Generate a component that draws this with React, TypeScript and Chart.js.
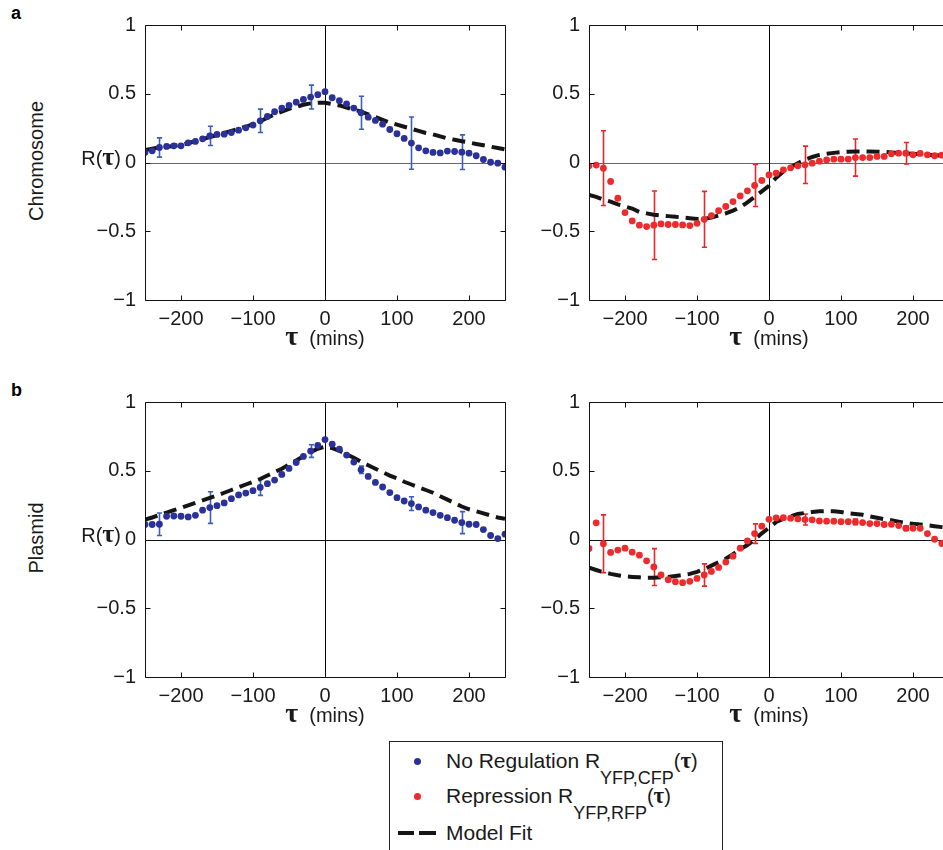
import React, { useEffect, useRef } from 'react';
import { Chart, registerables } from 'chart.js';

Chart.register(...registerables);

const FONT = "'Liberation Sans', Arial, Helvetica, sans-serif";
const SERIF = "'Liberation Serif', 'Times New Roman', serif";

// ---- data ----
const tau = [
  -250, -240, -230, -220, -210, -200, -190, -180, -170, -160, -150, -140, -130, -120, -110, -100, -90,
  -80, -70, -60, -50, -40, -30, -20, -10, 0, 10, 20, 30, 40, 50, 60, 70, 80, 90, 100, 110, 120, 130,
  140, 150, 160, 170, 180, 190, 200, 210, 220, 230, 240, 250,
];
const errTau = [-230, -160, -90, -20, 50, 120, 190];
const xTickValues = [-200, -100, 0, 100, 200];
const yTickValues = [-1, -0.5, 0, 0.5, 1];

// a: chromosome, no regulation (blue)
const chromoNoReg = [
  0.073, 0.085, 0.109, 0.117, 0.121, 0.121, 0.143, 0.153, 0.172, 0.194, 0.204, 0.206, 0.218, 0.235, 0.252,
  0.272, 0.303, 0.335, 0.369, 0.396, 0.415, 0.439, 0.459, 0.476, 0.493, 0.515, 0.471, 0.449, 0.427, 0.396,
  0.362, 0.33, 0.306, 0.279, 0.24, 0.209, 0.175, 0.141, 0.107, 0.085, 0.073, 0.07, 0.083, 0.08, 0.075,
  0.068, 0.049, 0.022, 0.002, -0.005, -0.034,
];
const chromoNoRegErr = [0.07, 0.07, 0.085, 0.087, 0.12, 0.19, 0.126];
const chromoNoRegFit = [
  0.09, 0.1, 0.11, 0.115, 0.12, 0.13, 0.14, 0.155, 0.17, 0.185, 0.2, 0.215, 0.23, 0.245, 0.26, 0.28, 0.3,
  0.325, 0.35, 0.37, 0.39, 0.405, 0.42, 0.43, 0.435, 0.435, 0.425, 0.415, 0.4, 0.385, 0.37, 0.35, 0.33,
  0.31, 0.29, 0.275, 0.26, 0.245, 0.23, 0.215, 0.205, 0.19, 0.175, 0.165, 0.155, 0.145, 0.135, 0.125,
  0.115, 0.105, 0.095,
];

// a: chromosome, repression (red)
const chromoRep = [
  -0.024, -0.019, -0.041, -0.138, -0.26, -0.364, -0.425, -0.456, -0.466, -0.456, -0.447, -0.451, -0.451,
  -0.454, -0.459, -0.442, -0.413, -0.386, -0.35, -0.32, -0.284, -0.243, -0.206, -0.167, -0.131, -0.09,
  -0.078, -0.053, -0.039, -0.024, -0.017, -0.005, 0.01, 0.019, 0.024, 0.024, 0.024, 0.036, 0.036, 0.036,
  0.044, 0.044, 0.063, 0.068, 0.068, 0.056, 0.066, 0.056, 0.049, 0.053, 0.05,
];
const chromoRepErr = [0.272, 0.249, 0.203, 0.153, 0.136, 0.135, 0.078];
const chromoRepFit = [
  -0.235, -0.25, -0.27, -0.285, -0.305, -0.32, -0.335, -0.36, -0.37, -0.38, -0.385, -0.39, -0.395, -0.4,
  -0.405, -0.41, -0.41, -0.4, -0.385, -0.37, -0.35, -0.325, -0.29, -0.25, -0.21, -0.17, -0.11, -0.065,
  -0.035, -0.005, 0.02, 0.04, 0.055, 0.063, 0.07, 0.075, 0.078, 0.08, 0.08, 0.08, 0.079, 0.077, 0.073,
  0.069, 0.066, 0.063, 0.06, 0.056, 0.053, 0.05, 0.048,
];

// b: plasmid, no regulation (blue)
const plasmidNoReg = [
  0.109, 0.109, 0.111, 0.169, 0.171, 0.169, 0.164, 0.176, 0.213, 0.232, 0.246, 0.266, 0.297, 0.324, 0.338,
  0.355, 0.379, 0.406, 0.432, 0.473, 0.517, 0.56, 0.604, 0.643, 0.684, 0.727, 0.693, 0.657, 0.614, 0.563,
  0.507, 0.459, 0.415, 0.382, 0.341, 0.304, 0.28, 0.261, 0.237, 0.213, 0.196, 0.176, 0.159, 0.14, 0.123,
  0.111, 0.109, 0.072, 0.029, 0.007, 0.039,
];
const plasmidNoRegErr = [0.082, 0.115, 0.058, 0.046, 0.027, 0.05, 0.08];
const plasmidNoRegFit = [
  0.145, 0.16, 0.178, 0.196, 0.213, 0.23, 0.248, 0.266, 0.284, 0.302, 0.32, 0.34, 0.36, 0.38, 0.4, 0.42,
  0.44, 0.465, 0.49, 0.515, 0.545, 0.575, 0.605, 0.635, 0.66, 0.675, 0.665, 0.645, 0.62, 0.595, 0.565,
  0.54, 0.515, 0.49, 0.465, 0.445, 0.42, 0.4, 0.38, 0.36, 0.34, 0.315, 0.29, 0.265, 0.24, 0.22, 0.205,
  0.19, 0.175, 0.16, 0.15,
];

// b: plasmid, repression (red)
const plasmidRep = [
  -0.065, 0.121, -0.031, -0.094, -0.077, -0.063, -0.092, -0.114, -0.155, -0.2, -0.258, -0.292, -0.307,
  -0.314, -0.304, -0.283, -0.258, -0.232, -0.203, -0.164, -0.121, -0.063, -0.01, 0.043, 0.097, 0.147,
  0.157, 0.159, 0.155, 0.15, 0.145, 0.143, 0.135, 0.133, 0.133, 0.13, 0.13, 0.128, 0.123, 0.116, 0.116,
  0.109, 0.111, 0.101, 0.082, 0.082, 0.082, 0.043, 0.002, -0.029, -0.06,
];
const plasmidRepErr = [0.21, 0.134, 0.081, 0.071, 0.04, 0.02, 0.016];
const plasmidRepFit = [
  -0.205, -0.222, -0.238, -0.25, -0.26, -0.268, -0.272, -0.275, -0.278, -0.278, -0.275, -0.272, -0.265,
  -0.258, -0.25, -0.235, -0.215, -0.19, -0.165, -0.14, -0.106, -0.07, -0.04, 0.0, 0.045, 0.085, 0.128,
  0.15, 0.168, 0.185, 0.193, 0.2, 0.205, 0.207, 0.205, 0.2, 0.19, 0.185, 0.18, 0.168, 0.158, 0.148, 0.14,
  0.13, 0.12, 0.114, 0.11, 0.103, 0.097, 0.09, 0.085,
];

const BLUE = '#2a3198';
const BLUE_ERR = '#3d60b4';
const RED = '#ee2a2c';
const RED_ERR = '#e6282e';
const FIT = '#151515';

const fmt = (v: number) => (v < 0 ? '\u2212' + Math.abs(v) : String(v));

type PanelProps = {
  left: number;
  top: number;
  width: number;
  height: number;
  yAxisW: number;
  padTop: number;
  padRight: number;
  xAxisH: number;
  values: number[];
  fit: number[];
  err: number[];
  color: string;
  errColor: string;
  zeroColor: string;
};

function makeFramePlugin(p: PanelProps) {
  return {
    id: 'mframe',
    beforeDatasetsDraw(chart: any) {
      const { ctx, chartArea: a } = chart;
      const xs = chart.scales.x;
      const ys = chart.scales.y;
      ctx.save();
      ctx.lineWidth = 1;
      ctx.strokeStyle = p.zeroColor;
      const y0 = Math.round(ys.getPixelForValue(0)) + 0.5;
      ctx.beginPath();
      ctx.moveTo(a.left, y0);
      ctx.lineTo(a.right, y0);
      ctx.stroke();
      ctx.strokeStyle = '#000';
      const x0 = Math.round(xs.getPixelForValue(0)) + 0.5;
      ctx.beginPath();
      ctx.moveTo(x0, a.top);
      ctx.lineTo(x0, a.bottom);
      ctx.stroke();
      ctx.strokeStyle = p.errColor;
      ctx.lineWidth = 1.6;
      errTau.forEach((t, k) => {
        const i = tau.indexOf(t);
        const v = p.values[i];
        const e = p.err[k];
        const px = Math.round(xs.getPixelForValue(t)) + 0.5;
        const yt = ys.getPixelForValue(v + e);
        const yb = ys.getPixelForValue(v - e);
        ctx.beginPath();
        ctx.moveTo(px, yt);
        ctx.lineTo(px, yb);
        ctx.moveTo(px - 2.6, yt);
        ctx.lineTo(px + 2.6, yt);
        ctx.moveTo(px - 2.6, yb);
        ctx.lineTo(px + 2.6, yb);
        ctx.stroke();
      });
      ctx.restore();
    },
    afterDraw(chart: any) {
      const { ctx, chartArea: a } = chart;
      const xs = chart.scales.x;
      const ys = chart.scales.y;
      const L = Math.round(a.left) + 0.5;
      const R = Math.round(a.right) + 0.5;
      const T = Math.round(a.top) + 0.5;
      const B = Math.round(a.bottom) + 0.5;
      ctx.save();
      ctx.strokeStyle = '#111';
      ctx.lineWidth = 1;
      ctx.beginPath();
      ctx.rect(L, T, R - L, B - T);
      const tl = 5;
      xTickValues.forEach((v) => {
        const px = Math.round(xs.getPixelForValue(v)) + 0.5;
        ctx.moveTo(px, B);
        ctx.lineTo(px, B - tl);
        ctx.moveTo(px, T);
        ctx.lineTo(px, T + tl);
      });
      yTickValues.forEach((v) => {
        const py = Math.round(ys.getPixelForValue(v)) + 0.5;
        ctx.moveTo(L, py);
        ctx.lineTo(L + tl, py);
        ctx.moveTo(R, py);
        ctx.lineTo(R - tl, py);
      });
      ctx.stroke();
      ctx.restore();
    },
  };
}

function Panel(p: PanelProps) {
  const ref = useRef<HTMLCanvasElement>(null);
  useEffect(() => {
    if (!ref.current) return;
    const tickFont = { family: FONT, size: 20 };
    const chart = new Chart(ref.current, {
      type: 'scatter',
      data: {
        datasets: [
          {
            data: tau.map((t, i) => ({ x: t, y: p.values[i] })),
            showLine: false,
            pointRadius: 3.4,
            pointBorderWidth: 0,
            pointBackgroundColor: p.color,
            backgroundColor: p.color,
            borderColor: p.color,
          },
          {
            data: tau.map((t, i) => ({ x: t, y: p.fit[i] })),
            showLine: true,
            pointRadius: 0,
            borderColor: FIT,
            borderWidth: 4,
            borderDash: [13, 7],
            borderCapStyle: 'butt',
            tension: 0,
            fill: false,
          } as any,
        ],
      },
      options: {
        animation: false,
        responsive: false,
        maintainAspectRatio: false,
        events: [],
        layout: { padding: { left: 0, top: p.padTop, right: p.padRight, bottom: 0 } },
        plugins: { legend: { display: false }, tooltip: { enabled: false } },
        scales: {
          x: {
            type: 'linear',
            min: -250,
            max: 250,
            afterBuildTicks: (s: any) => {
              s.ticks = xTickValues.map((v) => ({ value: v }));
            },
            afterFit: (s: any) => {
              s.height = p.xAxisH;
            },
            grid: { display: false, drawTicks: false },
            border: { display: false },
            ticks: {
              padding: 7,
              font: tickFont,
              color: '#1a1a1a',
              autoSkip: false,
              maxRotation: 0,
              callback: (v: any) => fmt(Number(v)),
            },
          },
          y: {
            type: 'linear',
            min: -1,
            max: 1,
            afterBuildTicks: (s: any) => {
              s.ticks = yTickValues.map((v) => ({ value: v }));
            },
            afterFit: (s: any) => {
              s.width = p.yAxisW;
            },
            grid: { display: false, drawTicks: false },
            border: { display: false },
            ticks: {
              padding: 9,
              font: tickFont,
              color: '#1a1a1a',
              autoSkip: false,
              callback: (v: any) => fmt(Number(v)),
            },
          },
        },
      } as any,
      plugins: [makeFramePlugin(p)],
    });
    return () => chart.destroy();
  }, []);
  return (
    <canvas
      ref={ref}
      width={p.width}
      height={p.height}
      style={{ position: 'absolute', left: p.left, top: p.top, width: p.width, height: p.height }}
    />
  );
}

const Tau = ({ size }: { size: number }) => (
  <span style={{ fontFamily: SERIF, fontWeight: 'bold', fontSize: size, lineHeight: 0 }}>τ</span>
);

function AxisTitle({ cx, top }: { cx: number; top: number }) {
  return (
    <div
      style={{
        position: 'absolute',
        left: cx,
        top,
        transform: 'translateX(-50%)',
        fontFamily: FONT,
        fontSize: 20,
        lineHeight: '24px',
        whiteSpace: 'nowrap',
        color: '#1a1a1a',
      }}
    >
      <Tau size={28} />
      <span style={{ lineHeight: 0 }}>{'\u00a0 (mins)'}</span>
    </div>
  );
}

function RLabel({ right, top }: { right: number; top: number }) {
  return (
    <div
      style={{
        position: 'absolute',
        left: right - 60,
        width: 60,
        top,
        textAlign: 'right',
        fontFamily: FONT,
        fontSize: 20,
        lineHeight: '24px',
        whiteSpace: 'nowrap',
        color: '#1a1a1a',
      }}
    >
      R(<Tau size={26} />)
    </div>
  );
}

function SideLabel({ cx, cy, text }: { cx: number; cy: number; text: string }) {
  return (
    <div
      style={{
        position: 'absolute',
        left: cx,
        top: cy,
        transform: 'translate(-50%, -50%) rotate(-90deg)',
        fontFamily: FONT,
        fontSize: 20,
        lineHeight: '24px',
        whiteSpace: 'nowrap',
        color: '#1a1a1a',
      }}
    >
      {text}
    </div>
  );
}

function LegendRow({ top, main, sub }: { top: number; main: string; sub?: string }) {
  return (
    <div
      style={{
        position: 'absolute',
        left: 446,
        top,
        fontFamily: FONT,
        fontSize: 21,
        lineHeight: '24px',
        whiteSpace: 'nowrap',
        color: '#1a1a1a',
      }}
    >
      {main}
      {sub ? (
        <>
          <span style={{ fontSize: 18, verticalAlign: '-16px', lineHeight: 0 }}>{sub}</span>
          <span style={{ fontSize: 20, lineHeight: 0 }}>
            (<Tau size={23} />)
          </span>
        </>
      ) : null}
    </div>
  );
}

export default function App() {
  const dy = 377;
  const common = { height: 335, padTop: 25, xAxisH: 35 };
  const leftP = { left: 55, width: 470, yAxisW: 90, padRight: 20 };
  const rightP = { left: 525, width: 445, yAxisW: 64, padRight: 21 };
  return (
    <div
      style={{
        position: 'fixed',
        left: 0,
        top: 0,
        width: 943,
        height: 850,
        overflow: 'hidden',
        background: '#fff',
      }}
    >
      <Panel
        {...common}
        {...leftP}
        top={0}
        values={chromoNoReg}
        fit={chromoNoRegFit}
        err={chromoNoRegErr}
        color={BLUE}
        errColor={BLUE_ERR}
        zeroColor="#666"
      />
      <Panel
        {...common}
        {...rightP}
        top={0}
        values={chromoRep}
        fit={chromoRepFit}
        err={chromoRepErr}
        color={RED}
        errColor={RED_ERR}
        zeroColor="#666"
      />
      <Panel
        {...common}
        {...leftP}
        top={dy}
        values={plasmidNoReg}
        fit={plasmidNoRegFit}
        err={plasmidNoRegErr}
        color={BLUE}
        errColor={BLUE_ERR}
        zeroColor="#111"
      />
      <Panel
        {...common}
        {...rightP}
        top={dy}
        values={plasmidRep}
        fit={plasmidRepFit}
        err={plasmidRepErr}
        color={RED}
        errColor={RED_ERR}
        zeroColor="#111"
      />

      <div style={{ position: 'absolute', left: 11, top: 4, fontFamily: FONT, fontWeight: 'bold', fontSize: 18, lineHeight: '18px' }}>a</div>
      <div style={{ position: 'absolute', left: 11, top: 4 + dy, fontFamily: FONT, fontWeight: 'bold', fontSize: 18, lineHeight: '18px' }}>b</div>

      <SideLabel cx={36} cy={160.5} text="Chromosome" />
      <SideLabel cx={36} cy={160.5 + dy} text="Plasmid" />

      <RLabel right={121} top={146} />
      <RLabel right={121} top={146 + dy} />

      <AxisTitle cx={325} top={326} />
      <AxisTitle cx={769} top={326} />
      <AxisTitle cx={325} top={326 + dy} />
      <AxisTitle cx={769} top={326 + dy} />

      <div
        style={{
          position: 'absolute',
          left: 389,
          top: 741,
          width: 334,
          height: 200,
          border: '1.5px solid #222',
          boxSizing: 'border-box',
        }}
      />
      <div style={{ position: 'absolute', left: 413.8, top: 757.5, width: 7, height: 7, borderRadius: '50%', background: BLUE }} />
      <div style={{ position: 'absolute', left: 413.8, top: 793.2, width: 7, height: 7, borderRadius: '50%', background: RED }} />
      <div style={{ position: 'absolute', left: 397.7, top: 831, width: 16.6, height: 4, background: FIT }} />
      <div style={{ position: 'absolute', left: 419.3, top: 831, width: 16.4, height: 4, background: FIT }} />
      <LegendRow top={749} main="No Regulation R" sub="YFP,CFP" />
      <LegendRow top={784} main="Repression R" sub="YFP,RFP" />
      <LegendRow top={821} main="Model Fit" />
    </div>
  );
}
